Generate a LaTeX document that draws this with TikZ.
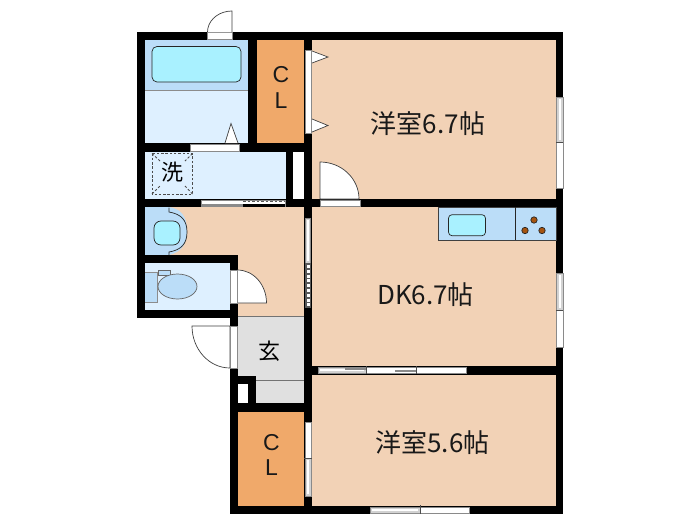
\documentclass[tikz,border=0pt]{standalone}
\usepackage{fontspec}
\setmainfont{Liberation Sans}
\newfontfamily\cjk{Noto Sans CJK JP}
\definecolor{room}{HTML}{F2D2B6}
\definecolor{closet}{HTML}{F0A96A}
\definecolor{bathdark}{HTML}{BBDDF8}
\definecolor{bathlight}{HTML}{DEF0FF}
\definecolor{water}{HTML}{A9F1FF}
\definecolor{entry}{HTML}{E0E0E0}
\definecolor{burner}{HTML}{A65410}
\definecolor{sillgrey}{HTML}{8A8A8A}
\definecolor{panel}{HTML}{D2D2D2}
\tikzset{
  wall/.style={fill=black,draw=none},
  floorroom/.style={fill=room,draw=none},
  sill/.style={fill=white,draw=sillgrey,line width=.8pt},
  panelsill/.style={fill=panel,draw=sillgrey,line width=.8pt},
  tick/.style={draw=black!70,line width=.8pt},
  door/.style={fill=white,draw=black!75,line width=.7pt},
  fixture/.style={draw=black!85,line width=.7pt},
  roomlabel/.style={font=\cjk\fontsize{26}{26}\selectfont,inner sep=0pt,text=black!90},
  cllabel/.style={font=\fontsize{23}{23}\selectfont,inner sep=0pt,text=black!90},
  smalllabel/.style={font=\cjk\fontsize{22}{22}\selectfont,inner sep=0pt,text=black},
  pan/.style={draw=black!70,line width=.8pt,dash pattern=on 2.5pt off 1.8pt}
}
\begin{document}
\begin{tikzpicture}[x=1pt,y=-1pt]
\useasboundingbox (0,0) rectangle (700,525);
\fill[white] (0,0) rectangle (700,525);
% floors
\fill[floorroom] (312,40) rectangle (556,199);
\fill[floorroom] (312,207) rectangle (556,366);
\fill[floorroom] (312,374) rectangle (556,506);
\fill[floorroom] (169,207) rectangle (304,316);
\fill[fill=closet] (256,40) rectangle (304,143);
\fill[fill=closet] (238,412) rectangle (304,506);
\fill[fill=bathdark] (145,40) rectangle (248,90);
\fill[fill=bathlight] (145,90) rectangle (248,143);
\draw[draw=black!45,line width=.5pt] (145,90.5) -- (248,90.5);
\fill[fill=bathlight] (145,151) rectangle (286,199);
\fill[fill=bathdark] (145,207) rectangle (169,255);
\fill[fill=bathlight] (145,263) rectangle (230,310);
\fill[fill=entry] (238,316) rectangle (304,403);
\draw[draw=black!55,line width=.7pt] (238,316) -- (304,316);
\draw[draw=black!55,line width=.7pt] (256,380) -- (304,380);
% walls
\fill[wall] (137,32) rectangle (563,40);
\fill[wall] (137,32) rectangle (145,318);
\fill[wall] (556,32) rectangle (563,514);
\fill[wall] (230,506) rectangle (563,514);
\fill[wall] (248,40) rectangle (256.5,143);
\fill[wall] (304,40) rectangle (312,514);
\fill[wall] (137,143) rectangle (312,151.5);
\fill[wall] (286,151) rectangle (293,199);
\fill[wall] (137,199) rectangle (563,207);
\fill[wall] (137,255) rectangle (237.5,263);
\fill[wall] (230,255) rectangle (237.5,326);
\fill[wall] (137,310) rectangle (237.5,318);
\fill[wall] (230,368) rectangle (238,514);
\fill[wall] (230,376) rectangle (256,411);
\fill[wall] (230,403) rectangle (312,411.5);
\fill[wall] (312,366) rectangle (556,374.5);
\fill[white] (293,151.5) rectangle (304,199);
\fill[white] (238,384) rectangle (248,403);
% windows and sliding doors
\draw[panelsill] (556,97) rectangle (563,142);
\draw[sill] (556.5,142) rectangle (563,188);
\fill[white] (558.5,99) rectangle (560.5,140);
\draw[tick] (556,142) -- (563,142);
\draw[panelsill] (556,273) rectangle (563,310);
\draw[sill] (556.5,310) rectangle (563,347);
\fill[white] (558.5,275) rectangle (560.5,308);
\draw[tick] (556,310) -- (563,310);
\draw[panelsill] (370,507) rectangle (420,513);
\draw[sill] (420,507) rectangle (469,513);
\fill[white] (372,509) rectangle (418,511);
\draw[tick] (420,505) -- (420,514);
\draw[panelsill] (318,367.5) rectangle (366,373);
\draw[sill] (366,367.5) rectangle (416,373);
\draw[sill] (416,367.5) rectangle (466,373);
\fill[white] (320,369) rectangle (364,371);
\draw[tick] (366,366) -- (366,374);
\draw[tick] (416,366) -- (416,374);
\draw[sillgrey,line width=1.2pt] (345,369) -- (366,369);
\draw[sillgrey,line width=1.2pt] (395,371) -- (416,371);
\draw[sill] (305,422) rectangle (311,458);
\draw[panelsill] (305,458) rectangle (311,496);
\fill[white] (307,460) rectangle (309,494);
\draw[tick] (304,458) -- (312,458);
\draw[panelsill] (305.5,218) rectangle (310.5,263);
\fill[white] (307,220) rectangle (309,261);
\fill[black!65] (305,263) rectangle (311,308);
\draw[white,line width=3pt,dash pattern=on 3pt off 1.8pt] (308,265) -- (308,307);
\draw[sill] (201.5,200) rectangle (285,206);
\fill[sillgrey] (201.5,204) rectangle (243,206.5);
\fill[black] (243,204) rectangle (285,206.5);
\draw[black!65,line width=1.2pt,dash pattern=on 2.5pt off 2pt] (243,201.5) -- (285,201.5);
% closet door triangles
\draw[door] (312,51) -- (328,57) -- (312,63);
\draw[door] (312,119) -- (328,125.5) -- (312,132);
\draw[door] (225,143) -- (231,123.5) -- (238,143);
\draw[sill] (190.5,144.5) rectangle (239.5,151);
\draw[sill] (305,50) rectangle (311,133);
% swing doors
\draw[sill] (207.5,32.5) rectangle (232,39);
\draw[door] (232,32) -- (232,11) arc[start angle=90,end angle=170,x radius=24.5,y radius=-21] -- (207.5,32);
\draw[door] (320,199) -- (320,162) arc[start angle=90,end angle=0,x radius=39,y radius=-37] -- cycle;
\draw[sill] (320.5,200) rectangle (360,206);
\draw[door] (237.5,303) -- (237.5,270) arc[start angle=90,end angle=0,x radius=29,y radius=-33] -- cycle;
\draw[sill] (230.5,270) rectangle (237,303);
\draw[door] (230,326) -- (192,326) arc[start angle=180,end angle=270,x radius=38,y radius=-42] -- cycle;
\draw[sill] (230.5,326) rectangle (237,368);
% bath
\draw[fixture,fill=water,rounded corners=5pt] (152,46.5) rectangle (241,82);
% washer pan
\draw[pan] (152,153.5) rectangle (192.5,194);
\draw[pan] (152,153.5) -- (160,161);
\draw[pan] (192.5,153.5) -- (185,161);
\draw[pan] (152,194) -- (160,186);
\draw[pan] (192.5,194) -- (185,186);
% basin
\fill[fill=bathdark] (169,207) .. controls (181,209) and (187,216) .. (187,231) .. controls (187,245) and (181,252) .. (169,255) -- cycle;
\draw[fixture] (169,207.5) -- (169,212) .. controls (181,214) and (187,220) .. (187,232) .. controls (187,244) and (181,250) .. (169,252) -- (169,255);
\draw[fixture,fill=water,rounded corners=7pt] (154,221) rectangle (180,245);
% toilet
\fill[fill=bathdark] (145,272.5) rectangle (157.5,302.5);
\draw[draw=black!45,line width=.5pt] (145,272.5) -- (157.5,272.5) -- (157.5,302.5) -- (145,302.5);
\draw[fixture,draw=black!60,fill=bathdark] (158,270) rectangle (170,275);
\draw[fixture,draw=black!60,fill=bathdark] (177.5,286.5) ellipse[x radius=19.5,y radius=12.5];
% kitchen
\draw[fixture,draw=black!75,fill=bathdark] (438,207) rectangle (556,240);
\draw[fixture] (515,207) -- (515,240);
\draw[fixture,fill=water,rounded corners=3.5pt] (448.5,214.7) rectangle (485.5,235.7);
\foreach \p in {(534,220),(525,230.5),(542,230.5)}
  \draw[fixture,fill=burner] \p circle[radius=3.2];
% labels
\node[roomlabel] (room1) at (428,124) {洋室6.7帖};
\node[roomlabel] (room2) at (425.5,295) {DK6.7帖};
\node[roomlabel] (room3) at (432.5,443) {洋室5.6帖};
\node[cllabel] (cl1a) at (281,75) {C};
\node[cllabel] (cl1b) at (281,101) {L};
\node[cllabel] (cl2a) at (271.5,443) {C};
\node[cllabel] (cl2b) at (271.5,468) {L};
\node[smalllabel] (wash) at (172,172) {洗};
\node[smalllabel] (genkan) at (269,351) {玄};
\end{tikzpicture}
\end{document}
